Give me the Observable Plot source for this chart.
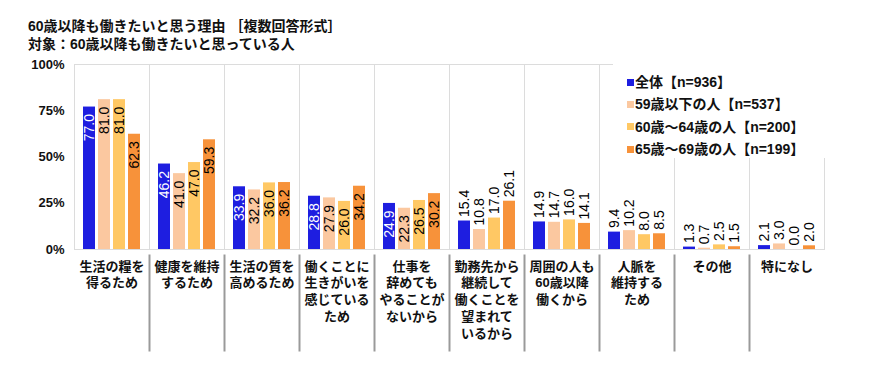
<!DOCTYPE html>
<html><head><meta charset="utf-8">
<script src="https://cdn.jsdelivr.net/npm/d3@7"></script>
<script src="https://cdn.jsdelivr.net/npm/@observablehq/plot@0.6"></script>
<style>
body{margin:0;background:#fff;}
#wrap{position:relative;width:870px;height:379px;font-family:"Liberation Sans","Noto Sans CJK JP",sans-serif;color:#111;}
#title{position:absolute;left:28px;top:17px;font-size:14px;font-weight:bold;line-height:18px;white-space:nowrap;}
#chart{position:absolute;left:0;top:0;}
#legend{position:absolute;left:613px;top:63px;width:212px;height:95px;background:#fff;box-sizing:border-box;padding:8px 0 0 14px;}
.item{height:22.3px;line-height:22.3px;font-size:14px;font-weight:bold;white-space:nowrap;}
.sw{display:inline-block;width:7px;height:7px;margin-right:1px;vertical-align:middle;position:relative;top:-1px;}
</style></head>
<body>
<div id="wrap">
  <div id="chart"></div>
  <div id="title"><div>60歳以降も働きたいと思う理由 ［複数回答形式］</div><div>対象：60歳以降も働きたいと思っている人</div></div>
  <div id="legend"></div>
</div>
<script>
const categories = ["生活の糧を得るため","健康を維持するため","生活の質を高めるため","働くことに生きがいを感じているため","仕事を辞めてもやることがないから","勤務先から継続して働くことを望まれているから","周囲の人も60歳以降働くから","人脈を維持するため","その他","特になし"];
const categoryLabels = ["生活の糧を\n得るため","健康を維持\nするため","生活の質を\n高めるため","働くことに\n生きがいを\n感じている\nため","仕事を\n辞めても\nやることが\nないから","勤務先から\n継続して\n働くことを\n望まれて\nいるから","周囲の人も\n60歳以降\n働くから","人脈を\n維持する\nため","その他","特になし"];
const seriesNames = ["全体【n=936】","59歳以下の人【n=537】","60歳～64歳の人【n=200】","65歳～69歳の人【n=199】"];
const seriesColors = ["#1E1EE0","#FBC8A0","#FFC864","#F7923A"];
const valuesAll  = [77.0, 46.2, 33.9, 28.8, 24.9, 15.4, 14.9, 9.4, 1.3, 2.1];
const values59   = [81.0, 41.0, 32.2, 27.9, 22.3, 10.8, 14.7, 10.2, 0.7, 3.0];
const values6064 = [81.0, 47.0, 36.0, 26.0, 26.5, 17.0, 16.0, 8.0, 2.5, 0.0];
const values6569 = [62.3, 59.3, 36.2, 34.2, 30.2, 26.1, 14.1, 8.5, 1.5, 2.0];
const yTicks = [0, 25, 50, 75, 100];

const seriesValues = [valuesAll, values59, values6064, values6569];
const rows = categories.flatMap((c, i) => seriesNames.map((s, j) => ({cat: c, series: s, value: seriesValues[j][i], ci: i, si: j})));
const labelMap = new Map(categories.map((c, i) => [c, categoryLabels[i]]));
const insideGroups = 5;
const font = '"Liberation Sans","Noto Sans CJK JP",sans-serif';

const plot = Plot.plot({
  width: 870, height: 379,
  marginTop: 64, marginBottom: 130, marginLeft: 72, marginRight: 45,
  style: {fontFamily: font, fontSize: "13px", color: "#111", background: "transparent"},
  fx: {domain: categories, padding: 0, label: null},
  x: {domain: seriesNames, paddingInner: 0.19, paddingOuter: 0.45, axis: null},
  y: {domain: [0, 100], label: null},
  color: {domain: seriesNames, range: seriesColors},
  marks: [
    Plot.frame({stroke: "#dcdcdc"}),
    ...categories.slice(1).map(c => Plot.frame({fx: c, anchor: "left", stroke: "#9a9a9a", strokeWidth: 2, strokeOpacity: 1, insetTop: 191, insetBottom: -101})),
    Plot.barY(rows, {fx: "cat", x: "series", y: "value", fill: "series"}),
    Plot.text(rows.filter(d => d.ci < insideGroups && d.si === 0), {fx: "cat", x: "series", y: "value", text: d => d.value.toFixed(1), rotate: -90, textAnchor: "end", dy: 7, fill: "white", fontSize: 14}),
    Plot.text(rows.filter(d => d.ci < insideGroups && d.si > 0), {fx: "cat", x: "series", y: "value", text: d => d.value.toFixed(1), rotate: -90, textAnchor: "end", dy: 7, fill: "black", fontSize: 14}),
    Plot.text(rows.filter(d => d.ci >= insideGroups), {fx: "cat", x: "series", y: "value", text: d => d.value.toFixed(1), rotate: -90, textAnchor: "start", dy: -4, fill: "black", fontSize: 14}),
    Plot.axisY({ticks: yTicks, tickFormat: d => d + "%", tickSize: 0, tickPadding: 10, fontWeight: "bold", fontSize: 13, label: null}),
    Plot.axisFx({anchor: "bottom", tickFormat: c => labelMap.get(c), tickSize: 0, tickPadding: 9, fontWeight: "bold", fontSize: 13, lineHeight: 1.3, label: null})
  ]
});
document.getElementById("chart").appendChild(plot);

const legend = d3.select("#legend");
seriesNames.forEach((s, i) => {
  const it = legend.append("div").attr("class", "item");
  it.append("span").attr("class", "sw").style("background", seriesColors[i]);
  it.append("span").text(s);
});
</script>
</body></html>
